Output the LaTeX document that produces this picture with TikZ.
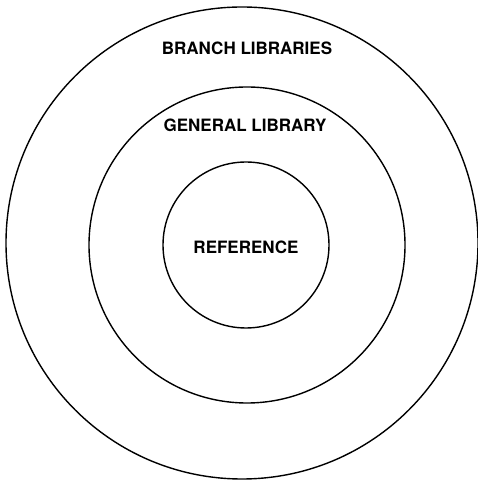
\documentclass[tikz,border=0pt]{standalone}
\usepackage{fontspec}
\setsansfont{TeX Gyre Heros}
\usetikzlibrary{positioning}
\tikzset{
    % Rings
    ring/.style = {draw=black, line width=1.4pt, circle, inner sep=0pt},
    % Labels
    caption/.style = {font=\sffamily\bfseries\fontsize{17}{19}\selectfont, inner sep=0pt}
}
\begin{document}
\begin{tikzpicture}[x=1pt, y=1pt]
    \useasboundingbox (0,0) rectangle (478,484);

    % Rings
    \node (branch) [ring, minimum size=472pt] at (242,241) {};
    \node (general) [ring, minimum size=316pt] at (247,239) {};
    \node (reference) [ring, minimum size=166pt] at (246,239) {};

    % Labels
    \node (branchtext) [caption] at (247,436) {BRANCH LIBRARIES};
    \node (generaltext) [caption] at (245,359) {GENERAL LIBRARY};
    \node (referencetext) [caption] at (246,237) {REFERENCE};
\end{tikzpicture}
\end{document}
